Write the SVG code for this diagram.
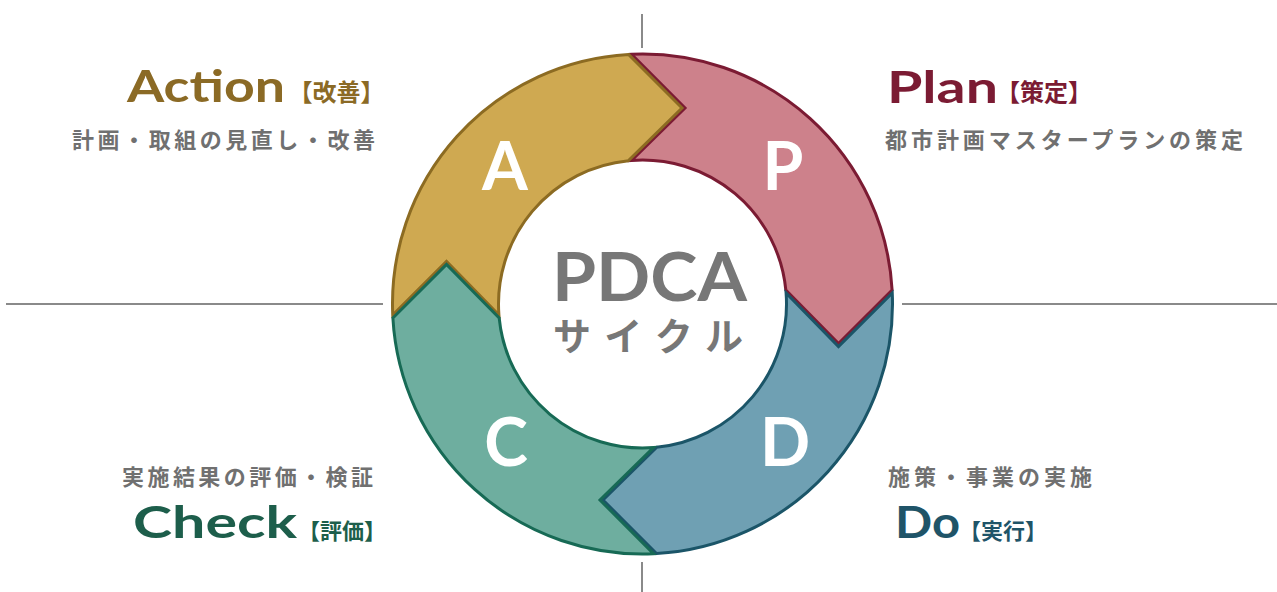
<svg xmlns="http://www.w3.org/2000/svg" width="1277" height="592" viewBox="0 0 1277 592">
  <defs>
    <!-- one quarter of the ring: arc band with a chevron head, notched tail -->
    <path id="seg" d="M -11,-249.76 A 250 250 0 0 1 249.61,-14 L 196,39.5 L 143.32,-14 A 144 144 0 0 0 -11,-143.58 L 42.5,-196 Z"/>
  </defs>
  <style>
    .axis { stroke: #8a8a8a; stroke-width: 2; fill: none; }
    .seg { stroke-width: 3; stroke-linejoin: miter; }
    .letter { font-family: Lato, "Liberation Sans", sans-serif; font-weight: 700; font-size: 66px; fill: #ffffff; text-anchor: middle; }
    .title { font-family: Lato, "Liberation Sans", sans-serif; font-weight: 700; font-size: 44px; }
    .tag { font-family: "Noto Sans CJK JP", sans-serif; font-weight: 700; text-anchor: middle; }
    .sub { font-family: "Noto Sans CJK JP", sans-serif; font-weight: 700; font-size: 22px; fill: #707070; }
    .hub { font-family: Lato, "Noto Sans CJK JP", sans-serif; font-weight: 700; fill: #777777; text-anchor: middle; }
  </style>

  <!-- quadrant axes -->
  <g id="axes">
    <line class="axis" x1="642" y1="14" x2="642" y2="48"/>
    <line class="axis" x1="642" y1="562" x2="642" y2="592"/>
    <line class="axis" x1="6" y1="304" x2="383" y2="304"/>
    <line class="axis" x1="902" y1="304" x2="1277" y2="304"/>
  </g>

  <!-- ring segments -->
  <g id="ring" transform="translate(642.5 304)">
    <use id="seg-plan" href="#seg" class="seg" fill="#cd818b" stroke="#7b1b33"/>
    <use id="seg-do" href="#seg" class="seg" fill="#6fa0b3" stroke="#1b5568" transform="rotate(90)"/>
    <use id="seg-action" href="#seg" class="seg" fill="#cfa951" stroke="#8c6b22" transform="rotate(270)"/>
    <use id="seg-check" href="#seg" class="seg" fill="#6eae9f" stroke="#176a55" transform="rotate(180)"/>
  </g>

  <g id="ring-letters">
    <text class="letter" x="505" y="190">A</text>
    <text class="letter" x="783" y="190">P</text>
    <text class="letter" x="506" y="466">C</text>
    <text class="letter" x="785" y="466">D</text>
  </g>

  <g id="hub">
    <text class="hub" x="649.5" y="301" font-size="66" textLength="195" lengthAdjust="spacingAndGlyphs">PDCA</text>
    <text class="hub" x="648" y="350" font-size="38" textLength="190" lengthAdjust="spacing">サイクル</text>
  </g>

  <g id="node-action">
    <text class="title" x="127" y="102" fill="#8b6a25" textLength="158" lengthAdjust="spacingAndGlyphs">Action</text>
    <text class="tag" x="336.5" y="101" font-size="24" fill="#8b6a25">【改善】</text>
    <text class="sub" x="72" y="148" textLength="303" lengthAdjust="spacing">計画・取組の見直し・改善</text>
  </g>

  <g id="node-plan">
    <text class="title" x="887" y="103" fill="#7b1b33" textLength="111" lengthAdjust="spacingAndGlyphs">Plan</text>
    <text class="tag" x="1044" y="101" font-size="24" fill="#7b1b33">【策定】</text>
    <text class="sub" x="885" y="148" textLength="358" lengthAdjust="spacing">都市計画マスタープランの策定</text>
  </g>

  <g id="node-check">
    <text class="sub" x="122" y="485" textLength="251" lengthAdjust="spacing">実施結果の評価・検証</text>
    <text class="title" x="133" y="538" fill="#1d5e4b" textLength="164" lengthAdjust="spacingAndGlyphs">Check</text>
    <text class="tag" x="342" y="539" font-size="22" fill="#1d5e4b">【評価】</text>
  </g>

  <g id="node-do">
    <text class="sub" x="888" y="485" textLength="204" lengthAdjust="spacing">施策・事業の実施</text>
    <text class="title" x="895" y="538" fill="#1f5468" textLength="65" lengthAdjust="spacingAndGlyphs">Do</text>
    <text class="tag" x="1003" y="539" font-size="22" fill="#1f5468">【実行】</text>
  </g>
</svg>
